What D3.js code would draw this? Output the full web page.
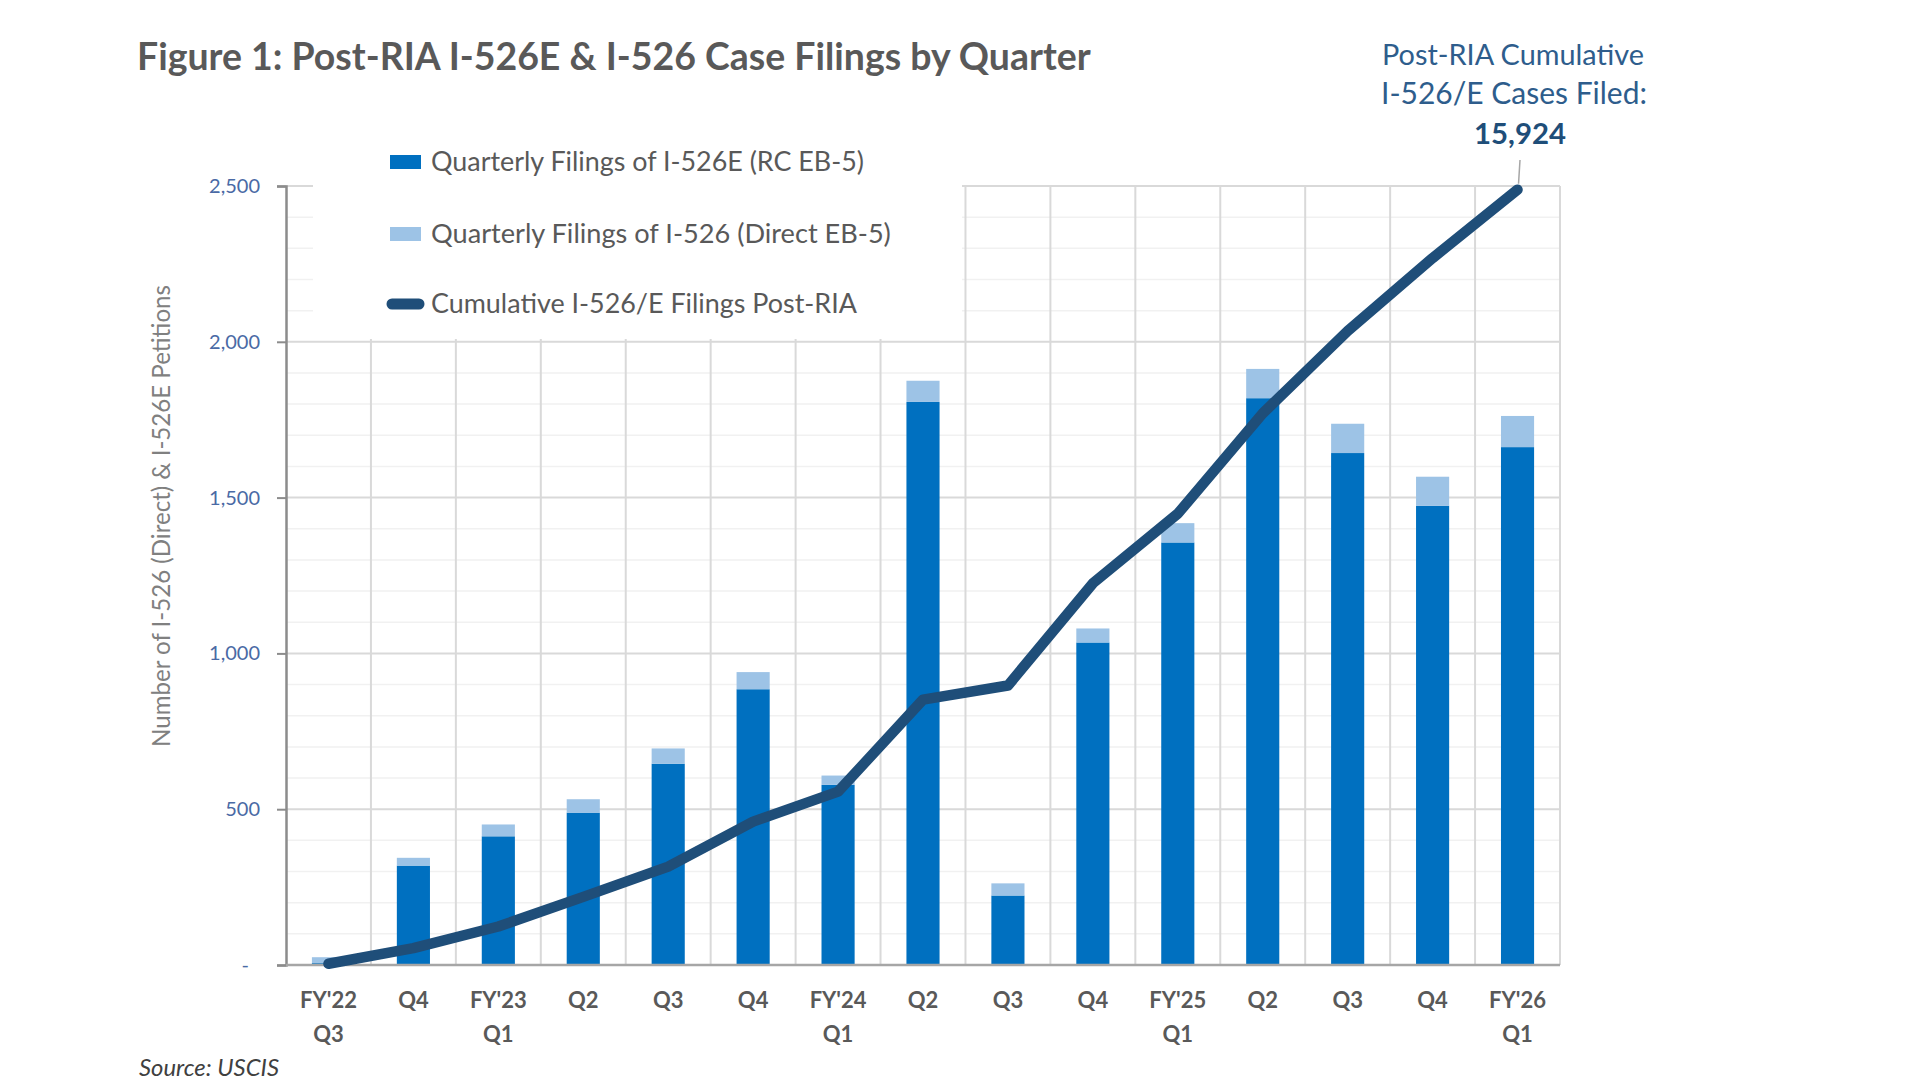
<!DOCTYPE html>
<html>
<head>
<meta charset="utf-8">
<script src="https://cdn.jsdelivr.net/npm/d3@7"></script>
<style>
  html, body { margin: 0; padding: 0; background: #ffffff; }
  svg { display: block; }
  text { font-family: Lato, "Open Sans", sans-serif; }
</style>
</head>
<body>
<div id="chart"></div>
<script>
// ---------------- DATA ----------------
const categories = ["FY'22 Q3", "Q4", "FY'23 Q1", "Q2", "Q3", "Q4", "FY'24 Q1", "Q2", "Q3", "Q4", "FY'25 Q1", "Q2", "Q3", "Q4", "FY'26 Q1"];
const rcFilings = [6, 319, 413, 489, 646, 885, 578, 1807, 223, 1035, 1356, 1819, 1643, 1474, 1662];   // I-526E (RC EB-5)
const directFilings = [19, 25, 38, 43, 49, 55, 30, 68, 39, 45, 62, 94, 94, 93, 100];             // I-526 (Direct EB-5)
const cumulative = [25, 345, 790, 1400, 2020, 2945, 3560, 5450, 5740, 7840, 9270, 11330, 13020, 14520, 15924];
const yTicks = [0, 500, 1000, 1500, 2000, 2500];
const yMinorTicks = d3.range(100, 2500, 100).filter(v => v % 500 !== 0);
const seriesNames = ["Quarterly Filings of I-526E (RC EB-5)", "Quarterly Filings of I-526 (Direct EB-5)", "Cumulative I-526/E Filings Post-RIA"];
const titleText = "Figure 1: Post-RIA I-526E & I-526 Case Filings by Quarter";
const yAxisTitle = "Number of I-526 (Direct) & I-526E Petitions";
const annotationLines = ["Post-RIA Cumulative", "I-526/E Cases Filed:"];
const totalFiled = 15924;
const sourceText = "Source: USCIS";

// ---------------- STYLE ----------------
const W = 1908, H = 1080;
const plot = { left: 286, right: 1560, top: 186, bottom: 965 };
const colRC = "#0070C0", colDirect = "#9DC3E6", colLine = "#1F4E79";
const gridCol = "#d9d9d9", minorCol = "#f1f1f1";
const textGray = "#595959";

const svg = d3.select("#chart").append("svg").attr("width", W).attr("height", H);

function fit(sel, target) {
  const w = sel.node().getComputedTextLength();
  const fs = parseFloat(sel.attr("font-size"));
  if (w > 0) sel.attr("font-size", (fs * target / w).toFixed(2));
  return sel;
}

const table = categories.map((c, i) => ({ idx: i, cat: c, rc: rcFilings[i], direct: directFilings[i], cum: cumulative[i] }));

const x = d3.scaleBand().domain(d3.range(categories.length)).range([plot.left, plot.right]).paddingInner(0.61).paddingOuter(0.305);
const y = d3.scaleLinear().domain([0, 2500]).range([plot.bottom, plot.top]);
const y2 = d3.scaleLinear().domain([0, 16000]).range([plot.bottom, plot.top]);
const xc = i => x(i) + x.bandwidth() / 2;

// minor gridlines
svg.append("g").selectAll("line").data(yMinorTicks).join("line")
  .attr("x1", plot.left).attr("x2", plot.right)
  .attr("y1", d => y(d)).attr("y2", d => y(d))
  .attr("stroke", minorCol).attr("stroke-width", 1.5);

// major horizontal gridlines
svg.append("g").selectAll("line").data(yTicks.filter(d => d > 0)).join("line")
  .attr("x1", plot.left).attr("x2", plot.right)
  .attr("y1", d => y(d)).attr("y2", d => y(d))
  .attr("stroke", gridCol).attr("stroke-width", 2);

// vertical gridlines at category boundaries
const bounds = d3.range(1, categories.length + 1).map(i => x.range()[0] + i * x.step());
svg.append("g").selectAll("line").data(bounds).join("line")
  .attr("x1", d => d).attr("x2", d => d)
  .attr("y1", plot.top).attr("y2", plot.bottom)
  .attr("stroke", gridCol).attr("stroke-width", 2);

// legend background (hides gridlines behind legend)
svg.append("rect").attr("x", 313).attr("y", 130).attr("width", 649).attr("height", 209).attr("fill", "#ffffff");

// stacked bars
const stack = d3.stack().keys(["rc", "direct"])(table);
const colors = { rc: colRC, direct: colDirect };
svg.append("g").selectAll("g").data(stack).join("g")
  .attr("fill", d => colors[d.key])
  .selectAll("rect").data(d => d).join("rect")
  .attr("x", d => x(d.data.idx))
  .attr("width", x.bandwidth())
  .attr("y", d => y(d[1]))
  .attr("height", d => y(d[0]) - y(d[1]));

// axes
const yAxis = d3.axisLeft(y).tickValues(yTicks).tickSize(9).tickPadding(17)
  .tickFormat(d => d === 0 ? "-" : d3.format(",")(d));
const gy = svg.append("g").attr("transform", `translate(${plot.left},0)`).call(yAxis);
gy.select(".domain").attr("stroke", "#8c8c8c").attr("stroke-width", 2.5);
gy.selectAll(".tick line").attr("stroke", "#8c8c8c").attr("stroke-width", 2);
gy.selectAll(".tick text").attr("fill", "#4a6aa5").attr("font-size", 20)
  .attr("font-family", "Lato, 'Open Sans', sans-serif")
  .attr("dx", d => d === 0 ? -11 : 0);

const xAxis = d3.axisBottom(x).tickSize(0).tickFormat("");
const gx = svg.append("g").attr("transform", `translate(0,${plot.bottom})`).call(xAxis);
gx.select(".domain").attr("stroke", "#a6a6a6").attr("stroke-width", 2.5)
  .attr("d", `M${plot.left},0H${plot.right}`);
gx.selectAll(".tick").each(function (d) {
  const parts = categories[d].split(" ");
  const t = d3.select(this).append("text")
    .attr("text-anchor", "middle").attr("fill", textGray)
    .attr("font-weight", "bold").attr("font-size", 22)
    .attr("font-family", "Lato, 'Open Sans', sans-serif");
  parts.forEach((p, i) => t.append("tspan").attr("x", 0).attr("y", i === 0 ? 43 : 77).text(p));
});

// cumulative line
const line = d3.line().x(d => xc(d.idx)).y(d => y2(d.cum));
svg.append("path").datum(table).attr("d", line)
  .attr("fill", "none").attr("stroke", colLine).attr("stroke-width", 10.5)
  .attr("stroke-linejoin", "round").attr("stroke-linecap", "round");

// title
fit(svg.append("text").attr("x", 137).attr("y", 70).attr("font-size", 35).attr("font-weight", "bold")
  .attr("fill", textGray).text(titleText), 954);

// y axis title
fit(svg.append("text").attr("transform", "translate(170,516) rotate(-90)")
  .attr("text-anchor", "middle").attr("font-size", 20).attr("fill", "#808080").text(yAxisTitle), 462);

// legend
const lg = svg.append("g");
lg.append("rect").attr("x", 390).attr("y", 155).attr("width", 31).attr("height", 14).attr("fill", colRC);
lg.append("rect").attr("x", 390).attr("y", 227).attr("width", 31).attr("height", 14).attr("fill", colDirect);
lg.append("line").attr("x1", 392).attr("x2", 419).attr("y1", 304).attr("y2", 304)
  .attr("stroke", colLine).attr("stroke-width", 11).attr("stroke-linecap", "round");
const legendY = [171, 243, 313];
const legendW = [433, 460, 426];
seriesNames.forEach((s, i) => {
  fit(lg.append("text").attr("x", 431).attr("y", legendY[i]).attr("font-size", 24)
    .attr("fill", textGray).text(s), legendW[i]);
});

// annotation
const ann = svg.append("g");
fit(ann.append("text").attr("x", 1513).attr("y", 65).attr("text-anchor", "middle").attr("font-size", 27)
  .attr("fill", "#2e5d8c").text(annotationLines[0]), 262);
fit(ann.append("text").attr("x", 1514).attr("y", 104).attr("text-anchor", "middle").attr("font-size", 27)
  .attr("fill", "#2e5d8c").text(annotationLines[1]), 266);
fit(ann.append("text").attr("x", 1520).attr("y", 144).attr("text-anchor", "middle").attr("font-size", 28)
  .attr("font-weight", "bold").attr("fill", "#1f4e79").text(d3.format(",")(totalFiled)), 92);
const lastIdx = table.length - 1;
ann.append("line").attr("x1", 1520).attr("y1", 160).attr("x2", xc(lastIdx) + 1).attr("y2", y2(table[lastIdx].cum) - 6)
  .attr("stroke", "#a6a6a6").attr("stroke-width", 1.5);

// source (placed fully inside the picture)
fit(svg.append("text").attr("x", 139).attr("y", 1076).attr("font-size", 18).attr("font-style", "italic")
  .attr("fill", "#404040").text(sourceText), 140);
</script>
</body>
</html>
